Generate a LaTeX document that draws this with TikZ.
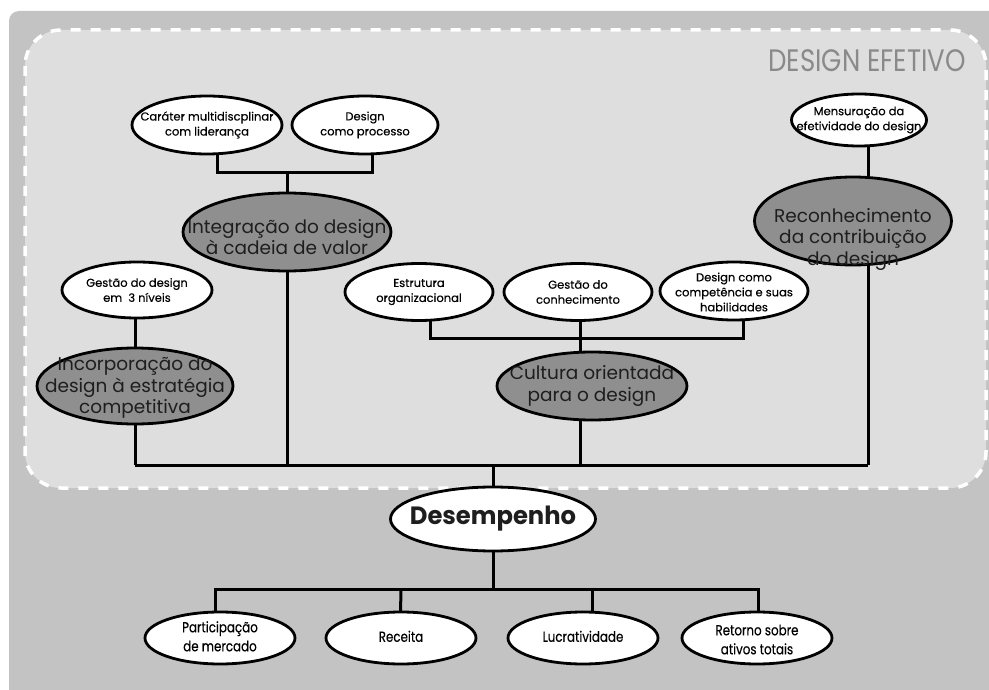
\documentclass[tikz,border=0pt]{standalone}
\usepackage{fontspec}
\setmainfont{Poppins}
\newfontfamily\labelfont{Poppins}[FakeBold=0.35]
\usetikzlibrary{shapes.geometric}
\definecolor{outerbg}{HTML}{C3C3C3}
\definecolor{innerbg}{HTML}{DEDEDE}
\definecolor{darkfill}{HTML}{8F8F8F}
\definecolor{titlegray}{HTML}{8A8A8A}
\definecolor{inkdark}{HTML}{1E1E1E}
\pgfdeclarelayer{back}
\pgfdeclarelayer{mid}
\pgfsetlayers{back,mid,main}
\newcommand{\narrowtext}[1]{\scalebox{0.82}[1]{\begin{tabular}{@{}c@{}}#1\end{tabular}}}
\begin{document}
\begin{tikzpicture}[x=1pt,y=-1pt,line join=round,
  conn/.style={line width=3pt,draw=black},
  oval/.style={ellipse,draw=black,line width=2.8pt,fill=white,inner sep=0pt},
  smalloval/.style={oval,minimum width=150pt,minimum height=57pt},
  bigoval/.style={oval,fill=darkfill},
  smalltxt/.style={font=\labelfont\fontsize{11.5}{15}\selectfont,align=center,text=black},
  bigtxt/.style={font=\fontsize{18.5}{21.5}\selectfont,align=center,text=inkdark},
  bottxt/.style={font=\labelfont\fontsize{14.5}{19}\selectfont,align=center,text=black}]
\useasboundingbox (0,0) rectangle (989,690);

% backgrounds
\begin{pgfonlayer}{back}
  \fill[outerbg] (9,690) [rounded corners=10pt] -- (9,11) [sharp corners] -- (989,11) -- (989,690) -- cycle;
  \draw[fill=innerbg,draw=white,line width=3.5pt,dash pattern=on 10pt off 10pt,rounded corners=36pt]
    (25,30) rectangle (986,488);
\end{pgfonlayer}

\node[anchor=east,text=titlegray,font=\fontsize{31}{31}\selectfont,inner sep=0pt] (title) at (966,61)
  {\scalebox{0.84}[1]{DESIGN EFETIVO}};

% first level ovals
\node[smalloval,minimum width=150pt,minimum height=58pt,
  label={[smalltxt]center:Caráter multidiscplinar\\com liderança}] (car) at (207,125) {};
\node[smalloval,minimum width=146pt,minimum height=58pt,
  label={[smalltxt]center:Design\\como processo}] (proc) at (365,125) {};
\node[smalloval,minimum width=150pt,minimum height=56pt,
  label={[smalltxt]center:Gestão do design\\em~~3 níveis}] (gest) at (137,290) {};
\node[smalloval,minimum width=148pt,
  label={[smalltxt]center:Estrutura\\organizacional}] (estr) at (419,292) {};
\node[smalloval,minimum width=148pt,
  label={[smalltxt]center:Gestão do\\conhecimento}] (conh) at (578,292) {};
\node[smalloval,minimum width=148pt,minimum height=58pt,
  label={[smalltxt,yshift=-1pt]center:Design como\\competência e suas\\habilidades}] (comp) at (734,291) {};
\node[smalloval,minimum width=135pt,minimum height=52pt,
  label={[smalltxt]center:Mensuração da\\efetividade do design}] (mens) at (859,120) {};

% grey ovals
\node[bigoval,minimum width=208pt,minimum height=78pt,
  label={[bigtxt,yshift=-5pt]center:Integração do design\\à cadeia de valor}] (integ) at (287,232) {};
\node[bigoval,minimum width=196pt,minimum height=76pt,
  label={[bigtxt,yshift=-2pt]center:Incorporação do\\design à estratégia\\competitiva}] (incorp) at (135,386) {};
\node[bigoval,minimum width=190pt,minimum height=68pt,
  label={[bigtxt]center:Cultura orientada\\para o design}] (cult) at (592,386) {};
\node[bigoval,minimum width=197pt,minimum height=88pt,
  label={[bigtxt,yshift=-18pt]center:Reconhecimento\\da contribuição\\do design}] (recon) at (853,221) {};

% performance
\node[oval,minimum width=205pt,minimum height=64pt,
  label={[font=\fontsize{25}{25}\selectfont\bfseries,text=inkdark]center:\scalebox{0.97}[1]{Desempenho}}] (desemp) at (493,519) {};
\node[oval,minimum width=150pt,minimum height=52pt,
  label={[bottxt]center:\narrowtext{Participação\\de mercado}}] (part) at (220,638) {};
\node[oval,minimum width=150pt,minimum height=52pt,
  label={[bottxt]center:\narrowtext{Receita}}] (rec) at (401,638) {};
\node[oval,minimum width=150pt,minimum height=52pt,
  label={[bottxt]center:\narrowtext{Lucratividade}}] (luc) at (583,638) {};
\node[oval,minimum width=150pt,minimum height=52pt,
  label={[bottxt,yshift=-3pt]center:\narrowtext{Retorno sobre\\ativos totais}}] (ret) at (757,638) {};

% junction points
\coordinate (jint) at (287,173);
\coordinate (jcult) at (580,338);
\coordinate (busL) at (135,465);
\coordinate (busR) at (868,465);
\coordinate (jperf) at (493,589);

\begin{pgfonlayer}{mid}
  % Integração branch
  \draw[conn] ([xshift=10pt]car.center) |- (jint) -| ([xshift=7pt]proc.center);
  \draw[conn] (jint) -- (integ.center);
  % Estratégia branch
  \draw[conn] ([xshift=-2pt]gest.center) -- (incorp.center);
  % Cultura branch
  \draw[conn] ([xshift=11pt]estr.center) |- (jcult);
  \draw[conn] ([xshift=9pt]comp.center) |- (jcult);
  \draw[conn] ([xshift=2pt]conh.center) -- ([xshift=-12pt]cult.center);
  % Reconhecimento branch
  \draw[conn] ([xshift=9pt]mens.center) -- ([xshift=15pt]recon.center);
  % main bus into Desempenho
  \draw[conn] (busL) -- (busR);
  \draw[conn] (incorp.center) -- (incorp.center |- busL);
  \draw[conn] (integ.center) -- (integ.center |- busL);
  \draw[conn] ([xshift=-12pt]cult.center) -- ([xshift=-12pt]cult.center |- busL);
  \draw[conn] ([xshift=15pt]recon.center) -- (busR);
  \draw[conn] (desemp.center |- busL) -- (desemp.center);
  % Desempenho outputs
  \draw[conn] (desemp.center) -- (jperf);
  \draw[conn] ([xshift=-5pt]part.center) |- (jperf) -| ([xshift=1pt]ret.center);
  \draw[conn] ([xshift=-1pt]rec.center) -- (rec.center |- jperf);
  \draw[conn] ([xshift=9pt]luc.center) -- ([xshift=9pt]luc.center |- jperf);
\end{pgfonlayer}
\end{tikzpicture}
\end{document}
